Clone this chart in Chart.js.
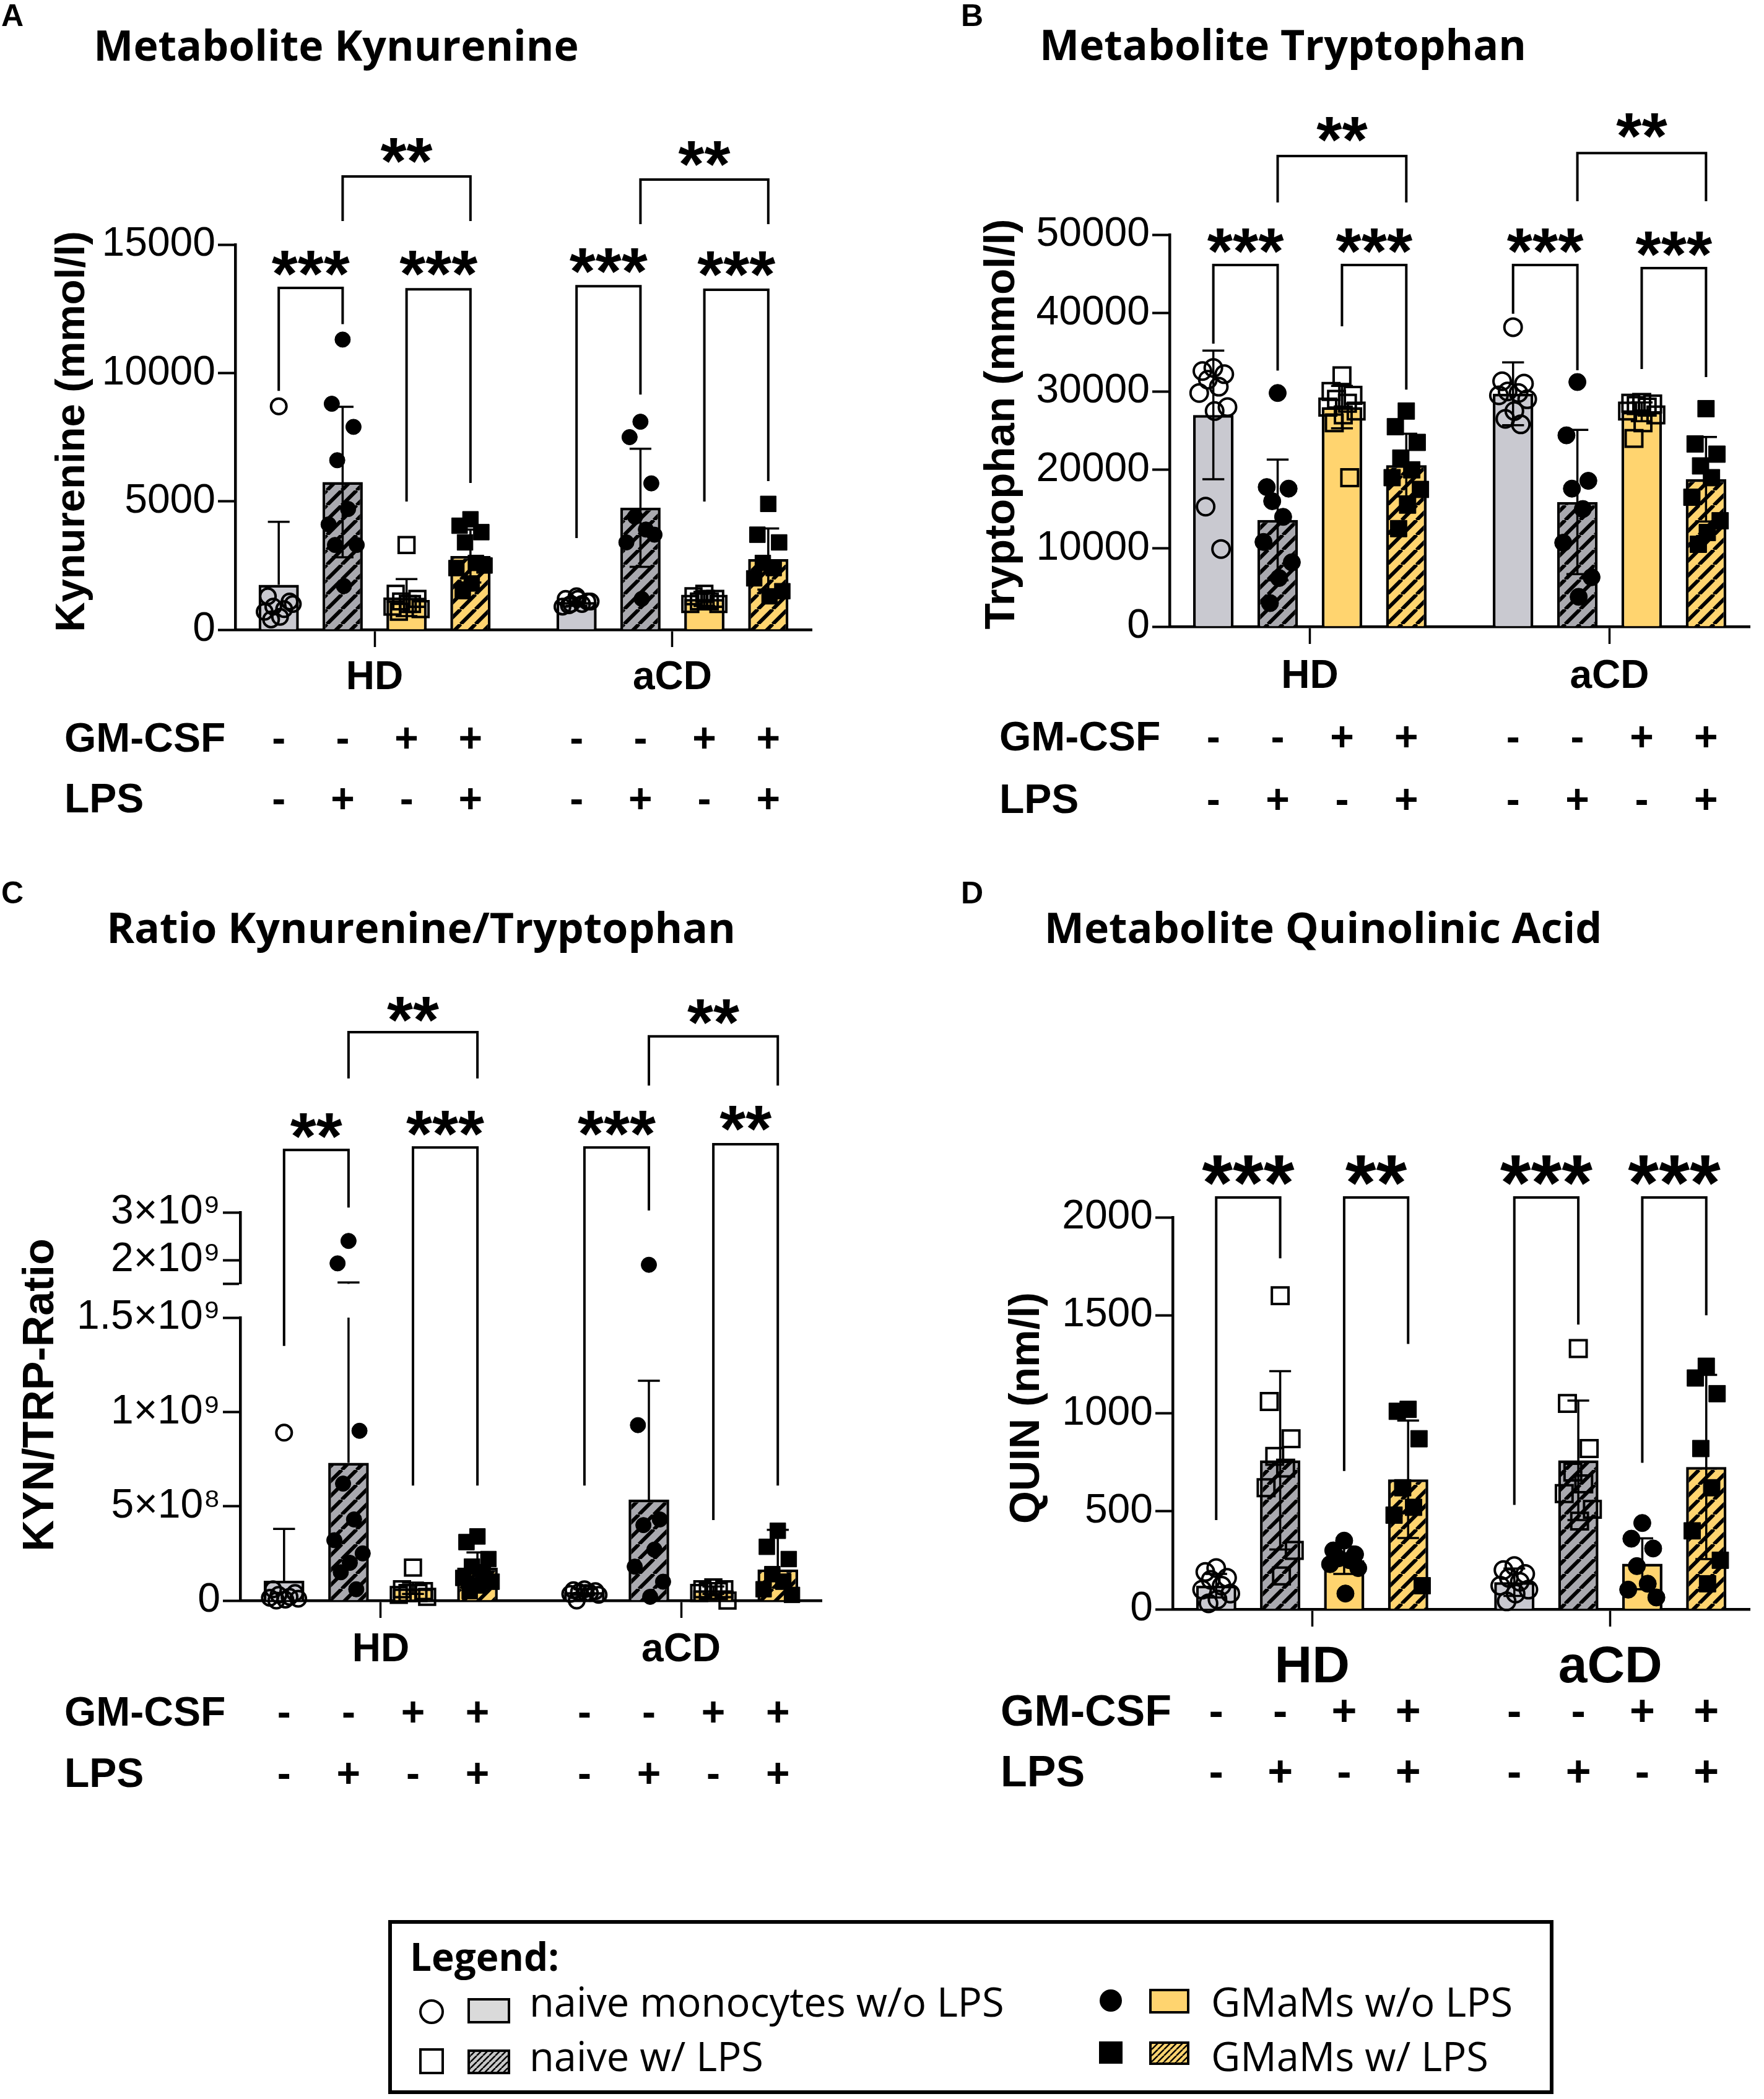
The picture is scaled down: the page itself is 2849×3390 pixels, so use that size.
<!DOCTYPE html>
<html>
<head>
<meta charset="utf-8">
<title>Kynurenine pathway metabolites</title>
<script src="https://cdn.jsdelivr.net/npm/chart.js@4.4.1/dist/chart.umd.min.js"></script>
<style>
  html, body { margin: 0; padding: 0; background: #fff; }
  body { position: relative; width: 2849px; height: 3390px; overflow: hidden; }
  canvas { position: absolute; }
</style>
</head>
<body>
<canvas id="panelA" width="1424" height="1390" style="left:0;top:0"></canvas>
<canvas id="panelB" width="1425" height="1390" style="left:1424px;top:0"></canvas>
<canvas id="panelC" width="1424" height="1500" style="left:0;top:1390px"></canvas>
<canvas id="panelD" width="1425" height="1500" style="left:1424px;top:1390px"></canvas>
<canvas id="legend" width="2849" height="500" style="left:0;top:2890px"></canvas>
<script>
// ---- data -------------------------------------------------------------
const groups = ['HD', 'aCD'];
const gmcsfRow = ['-', '-', '+', '+', '-', '-', '+', '+'];
const lpsRow = ['-', '+', '-', '+', '-', '+', '-', '+'];
const legendLabels = ['naive monocytes w/o LPS', 'naive w/ LPS', 'GMaMs w/o LPS', 'GMaMs w/ LPS'];

// A: kynurenine (mmol/l)
const kynMean = [1750, 5750, 1250, 2870, 1080, 4750, 1200, 2750];
const kynSd = [2450, 2930, 720, 1030, 150, 2300, 280, 1190];
const kynPoints = [
  [8700, 1300, 1100, 900, 800, 700, 1000, 500, 400],
  [11300, 8800, 7900, 6600, 4700, 4100, 3300, 1700, 3300],
  [3300, 1400, 1200, 1100, 1000, 900, 800, 1000, 700],
  [4300, 4050, 3800, 3400, 2600, 2400, 2500, 1800, 1500],
  [1300, 1200, 1100, 1000, 1000, 900, 1100, 1200, 950],
  [8100, 7500, 5700, 4400, 3900, 3400, 3700, 1200],
  [1400, 1300, 1200, 1100, 1100, 1000, 1000, 1200],
  [4900, 3700, 3400, 2600, 2400, 2000, 1500, 1300]
];
const kynTicks = [0, 5000, 10000, 15000];
const kynTickLabels = ['0', '5000', '10000', '15000'];
const kynSig = [
  {a: 0, b: 1, top: 13310, legA: 9300, legB: 11900, mark: '***', markY: 14444},
  {a: 2, b: 3, top: 13260, legA: 4990, legB: 5715, mark: '***', markY: 14444},
  {a: 4, b: 5, top: 13380, legA: 3570, legB: 9160, mark: '***', markY: 14520},
  {a: 6, b: 7, top: 13240, legA: 4990, legB: 5790, mark: '***', markY: 14420},
  {a: 1, b: 3, top: 17650, legA: 15915, legB: 15915, mark: '**', markY: 18810},
  {a: 5, b: 7, top: 17530, legA: 15795, legB: 15795, mark: '**', markY: 18690}
];

// B: tryptophan (mmol/l)
const trpMean = [27000, 13600, 28000, 20600, 29700, 15900, 27400, 18800];
const trpSd = [8200, 7700, 2700, 4000, 4000, 9200, 1200, 5400];
const trpPoints = [
  [33000, 32600, 32200, 31500, 30600, 29800, 28000, 27500, 15300, 9900],
  [29800, 17800, 17600, 16000, 14000, 10800, 8200, 6200, 3000],
  [32000, 30000, 29500, 29000, 28500, 28000, 27500, 27000, 26000, 19000],
  [27500, 25500, 23500, 21500, 20000, 19000, 17500, 15500, 12500],
  [38200, 31300, 31000, 30000, 29800, 29500, 29000, 27500, 26500, 25800],
  [31200, 24400, 18600, 17600, 15000, 10700, 6300, 3800],
  [28600, 28500, 28400, 28200, 28000, 27500, 27000, 26000, 24000],
  [27800, 23300, 22000, 20500, 19000, 16500, 13500, 12000, 10500]
];
const trpTicks = [0, 10000, 20000, 30000, 40000, 50000];
const trpTickLabels = ['0', '10000', '20000', '30000', '40000', '50000'];
const trpSig = [
  {a: 0, b: 1, top: 46130, legA: 36100, legB: 32660, mark: '***', markY: 49680},
  {a: 2, b: 3, top: 46130, legA: 38300, legB: 30240, mark: '***', markY: 49680},
  {a: 4, b: 5, top: 46130, legA: 39900, legB: 32700, mark: '***', markY: 49680},
  {a: 6, b: 7, top: 45730, legA: 32860, legB: 31830, mark: '***', markY: 49290},
  {a: 1, b: 3, top: 60030, legA: 54100, legB: 54100, mark: '**', markY: 63900},
  {a: 5, b: 7, top: 60400, legA: 54270, legB: 54270, mark: '**', markY: 64380}
];

// C: KYN/TRP ratio (broken axis)
const ratioMean = [1.05e8, 7.3e8, 6.5e7, 1.75e8, 4.5e7, 5.35e8, 5.5e7, 1.65e8];
const ratioSd = [2.75e8, 8.0e8, 3e7, 8e7, 1.5e7, 6.3e8, 2e7, 2.1e8];
const ratioPoints = [
  [8.9e8, 6e7, 4e7, 3e7, 2e7, 1.5e7, 1e7, 5e6, 0],
  [2.4e9, 1.93e9, 9e8, 6.2e8, 4.3e8, 3.2e8, 2.5e8, 2e8, 1.5e8, 6e7],
  [1.75e8, 6e7, 5e7, 4e7, 4e7, 3e7, 2e7],
  [3.4e8, 3.1e8, 2.2e8, 1.8e8, 1.5e8, 1.2e8, 1e8, 8e7, 5e7],
  [6e7, 5.5e7, 5e7, 4.5e7, 4e7, 3.5e7, 3e7, 4e7, 0],
  [1.9e9, 9.3e8, 4.3e8, 4e8, 2.7e8, 1.8e8, 1e8, 2e7],
  [7e7, 6e7, 6e7, 5e7, 5e7, 4e7, 0],
  [3.7e8, 2.85e8, 2.2e8, 1.4e8, 1e8, 6e7, 3e7]
];
const ratioBreak = 1.5e9;
const ratioTicksLow = [0, 5e8, 1e9, 1.5e9];
const ratioLabelsLow = ['0', '5×10⁸', '1×10⁹', '1.5×10⁹'];
const ratioTicksHigh = [1.5e9, 2e9, 3e9];
const ratioLabelsHigh = ['', '2×10⁹', '3×10⁹'];
const ratioSig = [
  {a: 0, b: 1, top: 4.31e9, legA: 1.35e9, legB: 3.1e9, mark: '**', markY: 4.9e9},
  {a: 2, b: 3, top: 4.36e9, legA: 6.1e8, legB: 6.1e8, mark: '***', markY: 4.96e9},
  {a: 4, b: 5, top: 4.36e9, legA: 6.1e8, legB: 3.04e9, mark: '***', markY: 4.96e9},
  {a: 6, b: 7, top: 4.43e9, legA: 4.27e8, legB: 6.1e8, mark: '**', markY: 5.06e9},
  {a: 1, b: 3, top: 6.78e9, legA: 5.81e9, legB: 5.81e9, mark: '**', markY: 7.35e9},
  {a: 5, b: 7, top: 6.69e9, legA: 5.66e9, legB: 5.66e9, mark: '**', markY: 7.29e9}
];

// D: quinolinic acid (nm/l)
const quinMean = [120, 760, 250, 663, 138, 760, 232, 726];
const quinSd = [60, 455, 70, 300, 70, 305, 130, 470];
const quinPoints = [
  [210, 190, 160, 150, 120, 100, 80, 50, 30],
  [1600, 1060, 870, 780, 720, 620, 300, 170],
  [350, 300, 280, 260, 250, 230, 210, 80],
  [1020, 1010, 870, 620, 520, 480, 120],
  [220, 200, 180, 160, 140, 120, 100, 80, 40],
  [1330, 1050, 820, 700, 640, 590, 510, 450],
  [440, 360, 310, 220, 130, 100, 60],
  [1240, 1180, 1100, 820, 620, 400, 250, 130]
];
const quinTicks = [0, 500, 1000, 1500, 2000];
const quinTickLabels = ['0', '500', '1000', '1500', '2000'];
const quinSig = [
  {a: 0, b: 1, top: 2101, legA: 455, legB: 1791, mark: '***', markY: 2263},
  {a: 2, b: 3, top: 2101, legA: 705, legB: 1354, mark: '**', markY: 2263},
  {a: 4, b: 5, top: 2101, legA: 532, legB: 1453, mark: '***', markY: 2263},
  {a: 6, b: 7, top: 2101, legA: 747, legB: 1500, mark: '***', markY: 2263}
];

// ---- layout / style ---------------------------------------------------
const SANS = "'Liberation Sans', Arial, sans-serif";
const HEAD = "'Open Sans', 'Liberation Sans', sans-serif";
const GREY = '#C9C9D0';
const GREY_DARK = '#A9A9AF';
const YELLOW = '#FFD46F';
const barX = [0, 1, 2, 3, 4.66, 5.66, 6.66, 7.66];
const groupX = [1.5, 6.16];
const jit = [0, -0.17, 0.17, -0.085, 0.085, -0.22, 0.22, 0.02, -0.12, 0.12];

const markersABC = [
  {shape: 'circle', filled: false}, {shape: 'circle', filled: true},
  {shape: 'rect', filled: false}, {shape: 'rect', filled: true}
];
const markersD = [
  {shape: 'circle', filled: false}, {shape: 'rect', filled: false},
  {shape: 'circle', filled: true}, {shape: 'rect', filled: true}
];

function hatch(ctx, base, s, lw) {
  const c = document.createElement('canvas');
  c.width = c.height = s;
  const g = c.getContext('2d');
  g.fillStyle = base;
  g.fillRect(0, 0, s, s);
  g.strokeStyle = '#000';
  g.lineWidth = lw;
  g.beginPath();
  for (let k = -1; k <= 1; k++) {
    g.moveTo(k * s, s);
    g.lineTo(k * s + s, 0);
  }
  g.stroke();
  return ctx.createPattern(c, 'repeat');
}

function text(ctx, s, x, y, font, align) {
  ctx.font = font;
  ctx.textAlign = align || 'left';
  ctx.textBaseline = 'alphabetic';
  ctx.fillStyle = '#000';
  ctx.fillText(s, x, y);
}

// value -> pixel, going to the upper segment when the axis is broken
function vy(chart, v) {
  const {y, yTop} = chart.scales;
  return yTop && v > y.max ? yTop.getPixelForValue(v) : y.getPixelForValue(v);
}

function yAxis(w, min, max, ticks, labels, extra) {
  return Object.assign({
    type: 'linear', position: 'left', min: min, max: max,
    afterBuildTicks: s => { s.ticks = ticks.map(v => ({value: v})); },
    afterFit: s => { s.width = w; },
    ticks: {
      color: '#000', padding: 4, autoSkip: false,
      font: {family: 'Liberation Sans', size: 66},
      callback: (v, i) => labels[i]
    },
    grid: {drawOnChartArea: false, drawTicks: true, tickLength: 28, tickWidth: 4, tickColor: '#000', color: '#000'},
    border: {color: '#000', width: 4.5}
  }, extra || {});
}

function extras(p) {
  return {
    id: 'extras',
    afterDatasetsDraw(chart) {
      const {ctx} = chart;
      const x = chart.scales.x;
      const unit = x.getPixelForValue(1) - x.getPixelForValue(0);
      const cap = unit * 0.17;
      const {y, yTop} = chart.scales;
      ctx.save();
      ctx.strokeStyle = '#000';
      ctx.lineWidth = 3.5;
      p.mean.forEach((m, i) => {
        const cx = x.getPixelForValue(barX[i]);
        const hi = m + p.sd[i];
        const lo = m - p.sd[i];
        ctx.beginPath();
        if (yTop && hi > y.max) {
          ctx.moveTo(cx, vy(chart, m));
          ctx.lineTo(cx, y.getPixelForValue(y.max));
          ctx.moveTo(cx, yTop.getPixelForValue(yTop.min));
          ctx.lineTo(cx, vy(chart, hi));
        } else {
          ctx.moveTo(cx, vy(chart, m));
          ctx.lineTo(cx, vy(chart, hi));
        }
        ctx.moveTo(cx - cap, vy(chart, hi));
        ctx.lineTo(cx + cap, vy(chart, hi));
        if (lo > 0) {
          ctx.moveTo(cx, vy(chart, m));
          ctx.lineTo(cx, vy(chart, lo));
          ctx.moveTo(cx - cap, vy(chart, lo));
          ctx.lineTo(cx + cap, vy(chart, lo));
        }
        ctx.stroke();
      });
      ctx.restore();
    },
    afterDraw(chart) {
      const {ctx} = chart;
      const x = chart.scales.x;
      ctx.save();
      text(ctx, p.letter, p.letterX, p.letterY, `bold 50px ${SANS}`, 'left');
      text(ctx, p.title, p.titleX, p.titleY, `bold 68px ${HEAD}`, 'center');

      ctx.save();
      ctx.translate(p.yTitleX, p.yTitleY);
      ctx.rotate(-Math.PI / 2);
      text(ctx, p.yTitle, 0, 0, `bold ${p.yTitleSize}px ${SANS}`, 'center');
      ctx.restore();

      groups.forEach((g, i) => {
        text(ctx, g, x.getPixelForValue(groupX[i]), p.groupY + 0.358 * p.groupSize,
          `bold ${p.groupSize}px ${SANS}`, 'center');
      });

      [['GM-CSF', gmcsfRow], ['LPS', lpsRow]].forEach(([name, signs], r) => {
        const base = p.rowY[r] + 0.358 * p.rowSize;
        text(ctx, name, p.rowX, base, `bold ${p.rowSize}px ${SANS}`, 'left');
        signs.forEach((s, i) => text(ctx, s, x.getPixelForValue(barX[i]), base, `bold ${p.rowSize}px ${SANS}`, 'center'));
      });

      ctx.strokeStyle = '#000';
      ctx.lineWidth = 4;
      ctx.lineJoin = 'miter';
      p.sig.forEach(s => {
        const xa = x.getPixelForValue(barX[s.a]);
        const xb = x.getPixelForValue(barX[s.b]);
        const yt = vy(chart, s.top);
        ctx.beginPath();
        ctx.moveTo(xa, vy(chart, s.legA));
        ctx.lineTo(xa, yt);
        ctx.lineTo(xb, yt);
        ctx.lineTo(xb, vy(chart, s.legB));
        ctx.stroke();
        text(ctx, s.mark, (xa + xb) / 2, vy(chart, s.markY) + 0.56 * p.starSize,
          `bold ${p.starSize}px ${SANS}`, 'center');
      });
      ctx.restore();
    }
  };
}

function makeChart(p) {
  const cv = document.getElementById(p.id);
  const ctx = cv.getContext('2d');
  const fills = [GREY, hatch(ctx, GREY_DARK, 24, 6), YELLOW, hatch(ctx, YELLOW, 24, 6)];

  const datasets = [{
    type: 'bar',
    data: p.mean.map((m, i) => ({x: barX[i], y: m})),
    backgroundColor: p.mean.map((m, i) => fills[i % 4]),
    borderColor: '#000',
    borderWidth: 4.5,
    barPercentage: 0.63,
    categoryPercentage: 1,
    yAxisID: 'y',
    order: 2
  }];

  p.points.forEach((vals, i) => {
    const mk = p.markers[i % 4];
    const low = [];
    const high = [];
    vals.forEach((v, j) => {
      const pt = {x: barX[i] + jit[j % jit.length], y: v};
      if (p.breakAt !== undefined && v > p.breakAt) high.push(pt); else low.push(pt);
    });
    [[low, 'y'], [high, 'yTop']].forEach(([d, axis]) => {
      if (!d.length) return;
      datasets.push({
        type: 'scatter',
        data: d,
        yAxisID: axis,
        order: 1,
        pointStyle: mk.shape,
        pointRadius: mk.shape === 'rect' ? p.sq : p.rad,
        pointBackgroundColor: mk.filled ? '#000' : 'rgba(0,0,0,0)',
        pointBorderColor: '#000',
        pointBorderWidth: mk.filled ? 1 : 4,
        clip: false
      });
    });
  });

  const scales = {
    x: {
      type: 'linear', position: 'bottom', min: -0.68, max: 8.34, offset: false,
      afterBuildTicks: s => { s.ticks = groupX.map(v => ({value: v})); },
      afterFit: s => { s.height = 40; },
      ticks: {display: false},
      grid: {offset: false, drawOnChartArea: false, drawTicks: true, tickLength: 28, tickWidth: 3.5, tickColor: '#000', color: '#000'},
      border: {color: '#000', width: 4.5}
    }
  };
  Object.assign(scales, p.axes);

  return new Chart(ctx, {
    type: 'bar',
    data: {datasets: datasets},
    options: {
      responsive: false,
      animation: false,
      devicePixelRatio: 1,
      events: [],
      layout: {padding: {left: 0, top: p.padTop, right: p.padRight, bottom: p.padBottom}},
      plugins: {legend: {display: false}, tooltip: {enabled: false}},
      scales: scales
    },
    plugins: [extras(p)]
  });
}

makeChart({
  id: 'panelA', letter: 'A', letterX: 2, letterY: 42,
  title: 'Metabolite Kynurenine', titleX: 543, titleY: 98,
  yTitle: 'Kynurenine (mmol/l)', yTitleX: 136, yTitleY: 697, yTitleSize: 67,
  mean: kynMean, sd: kynSd, points: kynPoints, sig: kynSig, markers: markersABC,
  padTop: 395, padRight: 113, padBottom: 333,
  axes: {y: yAxis(380, 0, 15000, kynTicks, kynTickLabels)},
  groupY: 1090, groupSize: 64, rowX: 104, rowY: [1190, 1288], rowSize: 66,
  rad: 12.5, sq: 18, starSize: 108
});

makeChart({
  id: 'panelB', letter: 'B', letterX: 128, letterY: 42,
  title: 'Metabolite Tryptophan', titleX: 648, titleY: 97,
  yTitle: 'Tryptophan (mmol/l)', yTitleX: 214, yTitleY: 685, yTitleSize: 69,
  mean: trpMean, sd: trpSd, points: trpPoints, sig: trpSig, markers: markersABC,
  padTop: 379, padRight: 5, padBottom: 338,
  axes: {y: yAxis(465, 0, 50000, trpTicks, trpTickLabels)},
  groupY: 1088, groupSize: 64, rowX: 190, rowY: [1188, 1289], rowSize: 66,
  rad: 14, sq: 19, starSize: 106
});

makeChart({
  id: 'panelC', letter: 'C', letterX: 2, letterY: 69,
  title: 'Ratio Kynurenine/Tryptophan', titleX: 680, titleY: 133,
  yTitle: 'KYN/TRP-Ratio', yTitleX: 86, yTitleY: 863, yTitleSize: 70,
  mean: ratioMean, sd: ratioSd, points: ratioPoints, sig: ratioSig, markers: markersABC,
  breakAt: ratioBreak,
  padTop: 568, padRight: 97, padBottom: 265,
  axes: {
    y: yAxis(388, 0, ratioBreak, ratioTicksLow, ratioLabelsLow, {stack: 'ratio', stackWeight: 457}),
    yGap: {
      type: 'linear', position: 'left', axis: 'y', min: 0, max: 1, stack: 'ratio', stackWeight: 54.5,
      afterFit: s => { s.width = 388; },
      ticks: {display: false}, grid: {display: false}, border: {display: false}
    },
    yTop: yAxis(388, ratioBreak, 3e9, ratioTicksHigh, ratioLabelsHigh, {axis: 'y', stack: 'ratio', stackWeight: 115.5})
  },
  groupY: 1270, groupSize: 64, rowX: 104, rowY: [1373, 1472], rowSize: 66,
  rad: 12.5, sq: 18, starSize: 108
});

makeChart({
  id: 'panelD', letter: 'D', letterX: 128, letterY: 69,
  title: 'Metabolite Quinolinic Acid', titleX: 713, titleY: 133,
  yTitle: 'QUIN (nm/l)', yTitleX: 254, yTitleY: 884, yTitleSize: 68,
  mean: quinMean, sd: quinSd, points: quinPoints, sig: quinSig, markers: markersD,
  padTop: 576, padRight: 5, padBottom: 251,
  axes: {y: yAxis(470, 0, 2000, quinTicks, quinTickLabels)},
  groupY: 1297, groupSize: 84, rowX: 192, rowY: [1372, 1470], rowSize: 70,
  rad: 14, sq: 19, starSize: 128
});

// ---- legend box -------------------------------------------------------
(function drawLegend() {
  const cv = document.getElementById('legend');
  const g = cv.getContext('2d');
  const oy = 2890;
  g.strokeStyle = '#000';
  g.lineWidth = 6;
  g.strokeRect(630, 3104 - oy, 1876, 275);
  text(g, 'Legend:', 662, 3183 - oy, `bold 62px ${HEAD}`, 'left');

  const thinGrey = hatch(g, '#C8C8C8', 10, 2.5);
  const thinYellow = hatch(g, YELLOW, 10, 2.5);
  g.lineWidth = 4;

  // naive monocytes w/o LPS
  g.beginPath(); g.arc(697, 3249 - oy, 18, 0, Math.PI * 2); g.stroke();
  g.fillStyle = '#DADADA'; g.fillRect(757, 3229 - oy, 65, 37); g.strokeRect(757, 3229 - oy, 65, 37);
  text(g, legendLabels[0], 855, 3257 - oy, `65px ${HEAD}`, 'left');

  // naive w/ LPS
  g.strokeRect(679, 3310 - oy, 36, 38);
  g.fillStyle = thinGrey; g.fillRect(757, 3312 - oy, 65, 36); g.strokeRect(757, 3312 - oy, 65, 36);
  text(g, legendLabels[1], 855, 3345 - oy, `65px ${HEAD}`, 'left');

  // GMaMs w/o LPS
  g.fillStyle = '#000'; g.beginPath(); g.arc(1794, 3231 - oy, 18, 0, Math.PI * 2); g.fill();
  g.fillStyle = YELLOW; g.fillRect(1858, 3214 - oy, 61, 36); g.strokeRect(1858, 3214 - oy, 61, 36);
  text(g, legendLabels[2], 1956, 3257 - oy, `65px ${HEAD}`, 'left');

  // GMaMs w/ LPS
  g.fillStyle = '#000'; g.fillRect(1775, 3297 - oy, 38, 36);
  g.fillStyle = thinYellow; g.fillRect(1858, 3299 - oy, 61, 34); g.strokeRect(1858, 3299 - oy, 61, 34);
  text(g, legendLabels[3], 1956, 3345 - oy, `65px ${HEAD}`, 'left');
})();
</script>
</body>
</html>
